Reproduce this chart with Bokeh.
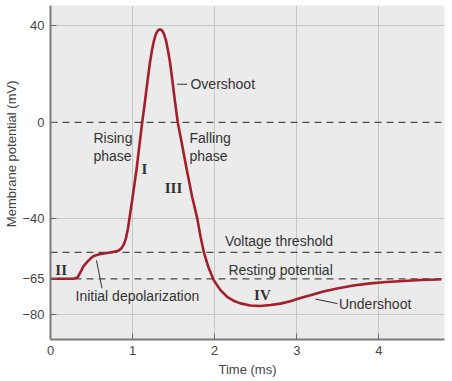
import math
from bokeh.plotting import figure
from bokeh.models import FixedTicker, Span, Label, Range1d, Title
from bokeh.embed import file_html
from bokeh.resources import INLINE

# ---- data ----
time_ms = [0.000, 0.280, 0.329, 0.365, 0.402, 0.447, 0.487, 0.527, 0.585, 0.649,
           0.771, 0.828, 0.865, 0.895, 0.920, 0.944, 0.968, 0.995, 1.047,
           1.117, 1.139, 1.163, 1.188, 1.212, 1.236, 1.261, 1.285, 1.309, 1.334,
           1.358, 1.382, 1.407, 1.431, 1.456, 1.480, 1.504, 1.529, 1.550,
           1.596, 1.657, 1.724, 1.787, 1.827, 1.867, 1.924, 1.989, 2.071, 2.152,
           2.229, 2.314, 2.436, 2.558, 2.680, 2.802, 2.923, 3.045, 3.167, 3.325,
           3.492, 3.691, 3.898, 4.093, 4.303, 4.507, 4.710, 4.762]
membrane_mv = [-65.0, -65.0, -64.5, -62.2, -59.8, -58.0, -56.6, -55.5, -54.9, -54.5,
               -53.8, -53.3, -52.3, -50.6, -48.1, -44.0, -38.6, -32.4, -19.9,
               0.0, 5.4, 12.0, 18.7, 24.9, 29.9, 34.0, 36.7, 38.2, 38.6,
               38.2, 36.7, 34.0, 29.9, 24.9, 18.7, 12.0, 5.4, 0.0,
               -8.1, -19.1, -30.7, -39.8, -47.3, -53.8, -60.2, -65.6, -69.7, -72.5,
               -74.1, -75.2, -76.1, -76.3, -75.9, -75.3, -74.3, -73.0, -71.8, -70.3,
               -69.0, -67.8, -66.9, -66.3, -65.9, -65.5, -65.3, -65.2]

x_ticks = [0, 1, 2, 3, 4]
y_ticks = [40, 0, -40, -65, -80]
y_tick_labels = {40: "40", 0: "0", -40: "\u221240", -65: "\u221265", -80: "\u221280"}
x_grid_lines = [1, 2, 3, 4]
y_grid_lines = [40, -40, -80]
dashed_levels = [0, -54, -65]   # zero, voltage threshold, resting potential

FONT = "Liberation Sans"
TXT = "#333333"
CURVE = "#a51f2b"

p = figure(width=452, height=381, output_backend="svg", toolbar_location=None,
           x_range=Range1d(0, 4.80), y_range=Range1d(-90.2, 48.5),
           min_border_left=50, min_border_right=8, min_border_top=5, min_border_bottom=42)
p.background_fill_color = "#ebebeb"
p.border_fill_color = "white"
p.outline_line_color = None

# grid
p.xgrid.ticker = FixedTicker(ticks=x_grid_lines)
p.ygrid.ticker = FixedTicker(ticks=y_grid_lines)
p.xgrid.grid_line_color = "#c6c6c6"
p.ygrid.grid_line_color = "#c6c6c6"
p.xgrid.grid_line_width = 1
p.ygrid.grid_line_width = 1

# axes
for ax in (p.xaxis[0], p.yaxis[0]):
    ax.axis_line_color = "#7a7a7a"
    ax.axis_line_width = 2
    ax.major_tick_line_color = "#6a6a6a"
    ax.major_tick_in = 6
    ax.major_tick_out = 0
    ax.minor_tick_line_color = None
    ax.major_label_text_font = FONT
    ax.major_label_text_font_size = "13px"
    ax.major_label_text_color = "#444444"
    ax.major_label_standoff = 6
p.xaxis.ticker = FixedTicker(ticks=x_ticks)
p.yaxis.ticker = FixedTicker(ticks=y_ticks)
p.yaxis.major_label_overrides = y_tick_labels
p.xaxis.axis_label = "Time (ms)"
p.xaxis.axis_label_text_font = FONT
p.xaxis.axis_label_text_font_size = "13px"
p.xaxis.axis_label_text_font_style = "normal"
p.xaxis.axis_label_text_color = "#444444"
p.xaxis.axis_label_standoff = 4

# y-axis title (placed as a side title so it can sit above centre like the original)
p.add_layout(Title(text="Membrane potential (mV)", align="right", offset=75,
                   vertical_align="middle", standoff=0,
                   text_font=FONT, text_font_size="13px", text_font_style="normal",
                   text_color="#444444"), "left")

# dashed reference lines
for lvl in dashed_levels:
    p.add_layout(Span(location=lvl, dimension="width", line_color="#4a4a4a",
                      line_width=1.3, line_dash="7 5", level="underlay"))

# the action potential curve
p.line(time_ms, membrane_mv, line_color=CURVE, line_width=2.6, line_join="round")

# leader lines
p.segment(x0=[1.543, 0.560, 3.228], y0=[15.8, -57.3, -73.4],
          x1=[1.663, 0.627, 3.496], y1=[15.8, -68.9, -75.3],
          line_color="#333333", line_width=1)

def txt(x, y, s, size="14px", align="left", font=FONT, style="normal"):
    p.add_layout(Label(x=x, y=y, text=s, text_font=font, text_font_size=size,
                       text_font_style=style, text_color=TXT, text_align=align,
                       text_baseline="middle"))

txt(1.705, 15.8, "Overshoot")
txt(0.524, -6.6, "Rising")
txt(0.524, -14.1, "phase")
txt(1.693, -6.6, "Falling")
txt(1.693, -14.1, "phase")
txt(0.305, -72.0, "Initial depolarization")
txt(2.125, -49.4, "Voltage threshold")
txt(2.168, -61.4, "Resting potential")
txt(3.514, -75.3, "Undershoot")

SERIF = "Liberation Serif"
txt(1.145, -19.5, "I", size="15px", align="center", font=SERIF, style="bold")
txt(0.130, -61.4, "II", size="15px", align="center", font=SERIF, style="bold")
txt(1.498, -27.2, "III", size="15px", align="center", font=SERIF, style="bold")
txt(2.582, -71.8, "IV", size="15px", align="center", font=SERIF, style="bold")

open("out.html", "w").write(file_html(p, INLINE))
